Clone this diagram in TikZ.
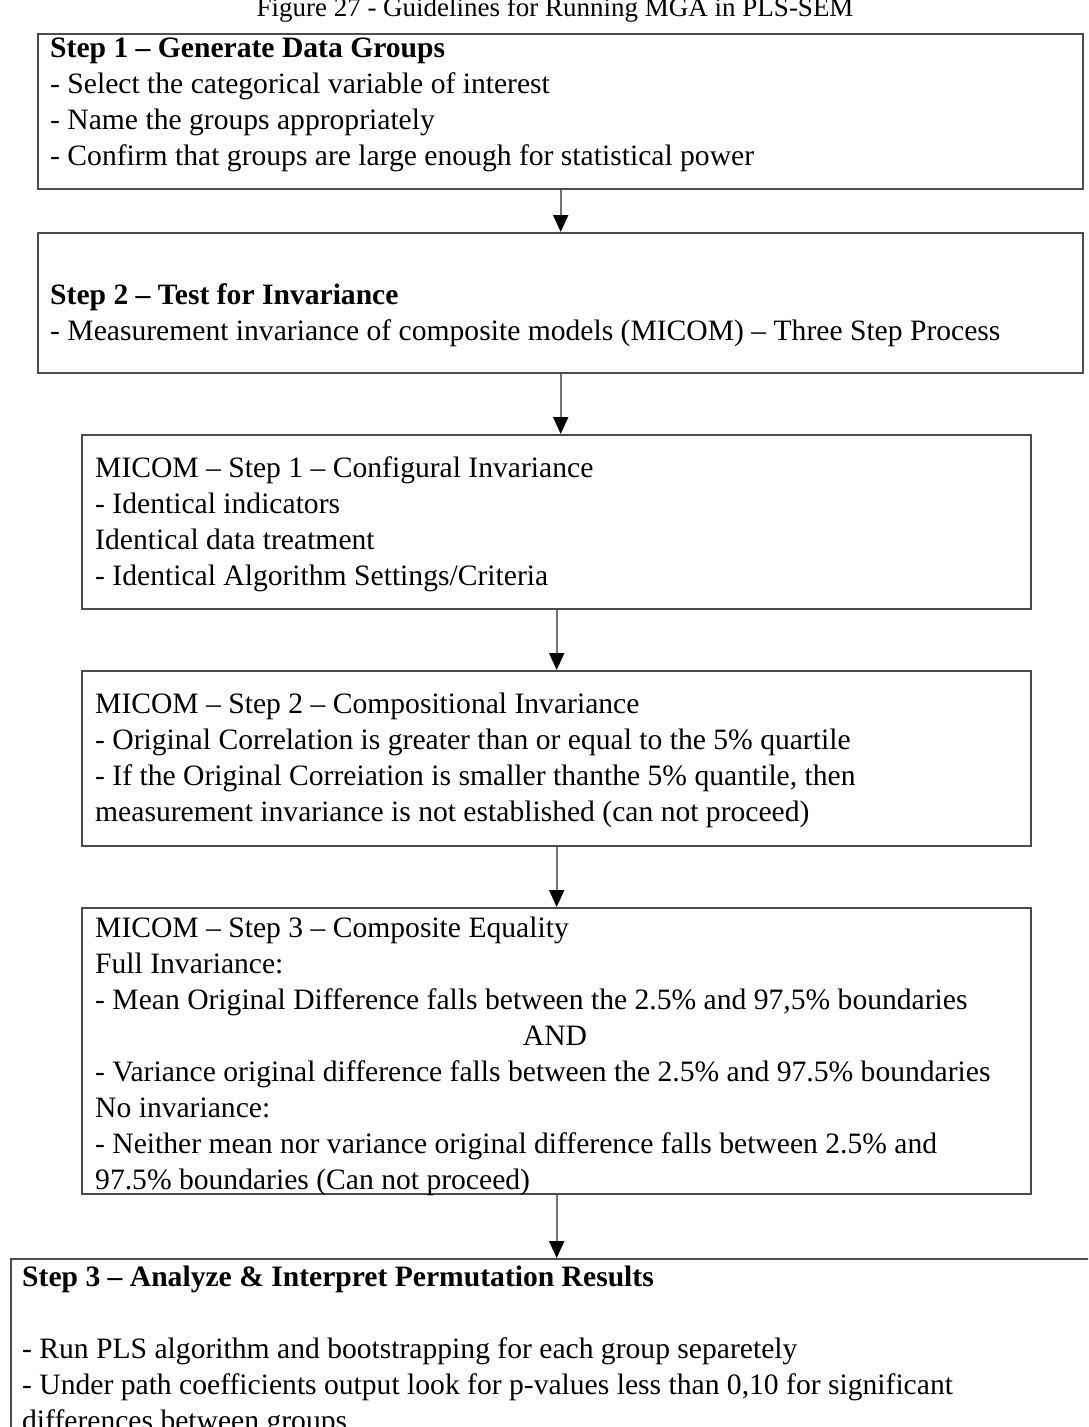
\documentclass[tikz,border=0pt]{standalone}
\usepackage{fontspec}
\setmainfont{Liberation Serif}
\usetikzlibrary{arrows.meta}
\tikzset{
  box/.style={draw=black!70, line width=2.4pt, fill=white, anchor=north west, inner sep=0pt},
  txt/.style={anchor=base west, inner sep=0pt, font=\fontsize{29.6}{36}\selectfont},
  arr/.style={draw=black!55, line width=2pt, -{Triangle[width=15pt,length=17pt,color=black]}},
}
% left-aligned block of lines, baseline on its first line
\newcommand\textrows[1]{\begin{tabular}[t]{@{}l@{}}#1\end{tabular}}

\begin{document}
\begin{tikzpicture}[x=1pt,y=-1pt]
\useasboundingbox (0,0) rectangle (1088,1427);
\clip (0,0) rectangle (1088,1427);
\fill[white] (0,0) rectangle (1088,1427);

\node[anchor=base, inner sep=0pt, font=\fontsize{27}{32}\selectfont] (title) at (555,16)
  {Figure 27 - Guidelines for Running MGA in PLS-SEM};

% boxes
\node[box, minimum width=1045pt, minimum height=155pt] (s1) at (37,33) {};
\node[box, minimum width=1045pt, minimum height=140pt] (s2) at (37,232) {};
\node[box, minimum width=949pt, minimum height=174pt] (m1) at (81,434) {};
\node[box, minimum width=949pt, minimum height=175pt] (m2) at (81,670) {};
\node[box, minimum width=949pt, minimum height=286pt] (m3) at (81,907) {};
\node[box, minimum width=1100pt, minimum height=200pt] (s3) at (10,1258) {};

% texts
\node[txt] (t1) at (50,57) {\textrows{\textbf{Step 1 -- Generate Data Groups}\\
  - Select the categorical variable of interest\\
  - Name the groups appropriately\\
  - Confirm that groups are large enough for statistical power}};

\node[txt] (t2) at (50,304) {\textrows{\textbf{Step 2 -- Test for Invariance}\\
  - Measurement invariance of composite models (MICOM) -- Three Step Process}};

\node[txt] (t3) at (95,477) {\textrows{MICOM -- Step 1 -- Configural Invariance\\
  - Identical indicators\\
  Identical data treatment\\
  - Identical Algorithm Settings/Criteria}};

\node[txt] (t4) at (95,713) {\textrows{MICOM -- Step 2 -- Compositional Invariance\\
  - Original Correlation is greater than or equal to the 5\% quartile\\
  - If the Original Correiation is smaller thanthe 5\% quantile, then\\
  measurement invariance is not established (can not proceed)}};

\node[txt] (t5) at (95,937) {\textrows{MICOM -- Step 3 -- Composite Equality\\
  Full Invariance:\\
  - Mean Original Difference falls between the 2.5\% and 97,5\% boundaries\\
  \\
  - Variance original difference falls between the 2.5\% and 97.5\% boundaries\\
  No invariance:\\
  - Neither mean nor variance original difference falls between 2.5\% and\\
  97.5\% boundaries (Can not proceed)}};
\node[txt, anchor=base] (and) at (555,1045) {AND};

\node[txt] (t6) at (22,1286) {\textrows{\textbf{Step 3 -- Analyze \& Interpret Permutation Results}\\
  \\
  - Run PLS algorithm and bootstrapping for each group separetely\\
  - Under path coefficients output look for p-values less than 0,10 for significant\\
  differences between groups}};

% connectors
\draw[arr] (s1.south) -- (s2.north);
\draw[arr] (s2.south) -- (s2.south |- m1.north);
\draw[arr] (m1.south) -- (m2.north);
\draw[arr] (m2.south) -- (m3.north);
\draw[arr] (m3.south) -- (m3.south |- s3.north);
\end{tikzpicture}
\end{document}
